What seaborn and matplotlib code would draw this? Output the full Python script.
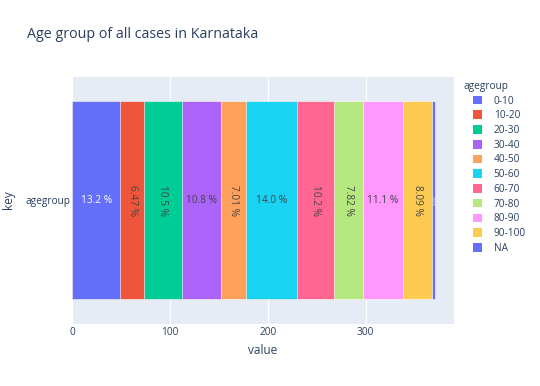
import matplotlib
matplotlib.use("Agg")
import matplotlib.pyplot as plt
import seaborn as sns
import numpy as np
from matplotlib.patches import Patch

# ---- data ----
agegroups = ["0-10", "10-20", "20-30", "30-40", "40-50", "50-60",
             "60-70", "70-80", "80-90", "90-100", "NA"]
counts = [49, 24, 39, 40, 26, 52, 38, 29, 41, 30, 3]
key_label = "agegroup"
legend_title = "agegroup"
colors = ["#636EFA", "#EF553B", "#00CC96", "#AB63FA", "#FFA15A", "#19D3F3",
          "#FF6692", "#B6E880", "#FF97FF", "#FECB52", "#636EFA"]
rotated = [False, True, True, False, True, False, True, True, False, True, True]
text_colors = ["white", "#444444", "#444444", "#444444", "#444444", "#444444",
               "#444444", "#444444", "#444444", "#444444", "white"]
xticks = [0, 100, 200, 300]

FG = "#2a3f5f"
BG = "#E5ECF6"

sns.set_theme(style="darkgrid", rc={
    "axes.facecolor": BG,
    "grid.color": "white",
    "grid.linewidth": 1.0,
    "axes.edgecolor": BG,
})
plt.rcParams['font.family'] = ['Open Sans', 'DejaVu Sans']

fs = 7.25
W, H = 540, 386
fig = plt.figure(figsize=(5.4, 3.86), dpi=100)
L, R, T, B = 72.4, 454.0, 76.7, 323.5
ax = fig.add_axes([L / W, 1 - B / H, (R - L) / W, (B - T) / H])

cum = np.cumsum(counts)
total = cum[-1]
for i in reversed(range(len(counts))):
    sns.barplot(x=[cum[i]], y=[key_label], color=colors[i], orient="h",
                width=0.8, edgecolor="white", linewidth=0.4, saturation=1,
                ax=ax)

def fmt(p):
    d = max(0, 2 - int(np.floor(np.log10(p))))
    return f"{p:.{d}f} %"

for i, c in enumerate(counts):
    center = cum[i] - c / 2
    pct = c / total * 100
    if i == len(counts) - 1:
        ax.text(center, 0, fmt(pct), rotation=-90, ha="center", va="center",
                color=text_colors[i], fontsize=1.8)
    else:
        ax.text(center, 0, fmt(pct), rotation=-90 if rotated[i] else 0,
                ha="center", va="center", color=text_colors[i], fontsize=fs)

ax.set_xlim(0, total * 1.0526)
ax.set_ylim(0.5, -0.5)
ax.set_xticks(xticks)
ax.set_xticklabels([str(t) for t in xticks])
ax.grid(axis="y", visible=False)
ax.grid(axis="x", color="white", linewidth=1.0)
ax.set_axisbelow(True)
for s in ax.spines.values():
    s.set_visible(False)
ax.tick_params(axis="both", length=0, labelsize=fs, labelcolor=FG)
ax.tick_params(axis="x", pad=2.5)
ax.tick_params(axis="y", pad=1.5)
ax.set_xlabel("value", fontsize=8.5, color=FG)
ax.set_ylabel("key", fontsize=8.5, color=FG)
ax.xaxis.set_label_coords(0.5 + (263 - (L + R) / 2) / (R - L), -(351 - B) / (B - T))
ax.yaxis.set_label_coords(-(L - 8) / (R - L), 0.5)
ax.xaxis.label.set_va("center")
ax.yaxis.label.set_va("center")

fig.text(27 / W, 1 - 34 / H, "Age group of all cases in Karnataka",
         fontsize=10.3, color=FG, ha="left", va="center")

fig.text(463 / W, 1 - 86 / H, legend_title, fontsize=fs, color=FG,
         ha="left", va="center")
handles = [Patch(facecolor=c, edgecolor="none") for c in colors]
leg = fig.legend(handles, agegroups, loc="upper left",
                 bbox_to_anchor=(472.5 / W, 1 - 95.5 / H), frameon=False,
                 fontsize=fs, handlelength=0.95,
                 handleheight=0.95, labelspacing=0.37, handletextpad=1.15,
                 borderaxespad=0, borderpad=0)
for t in leg.get_texts():
    t.set_color(FG)

fig.savefig("out.png", dpi=100)
